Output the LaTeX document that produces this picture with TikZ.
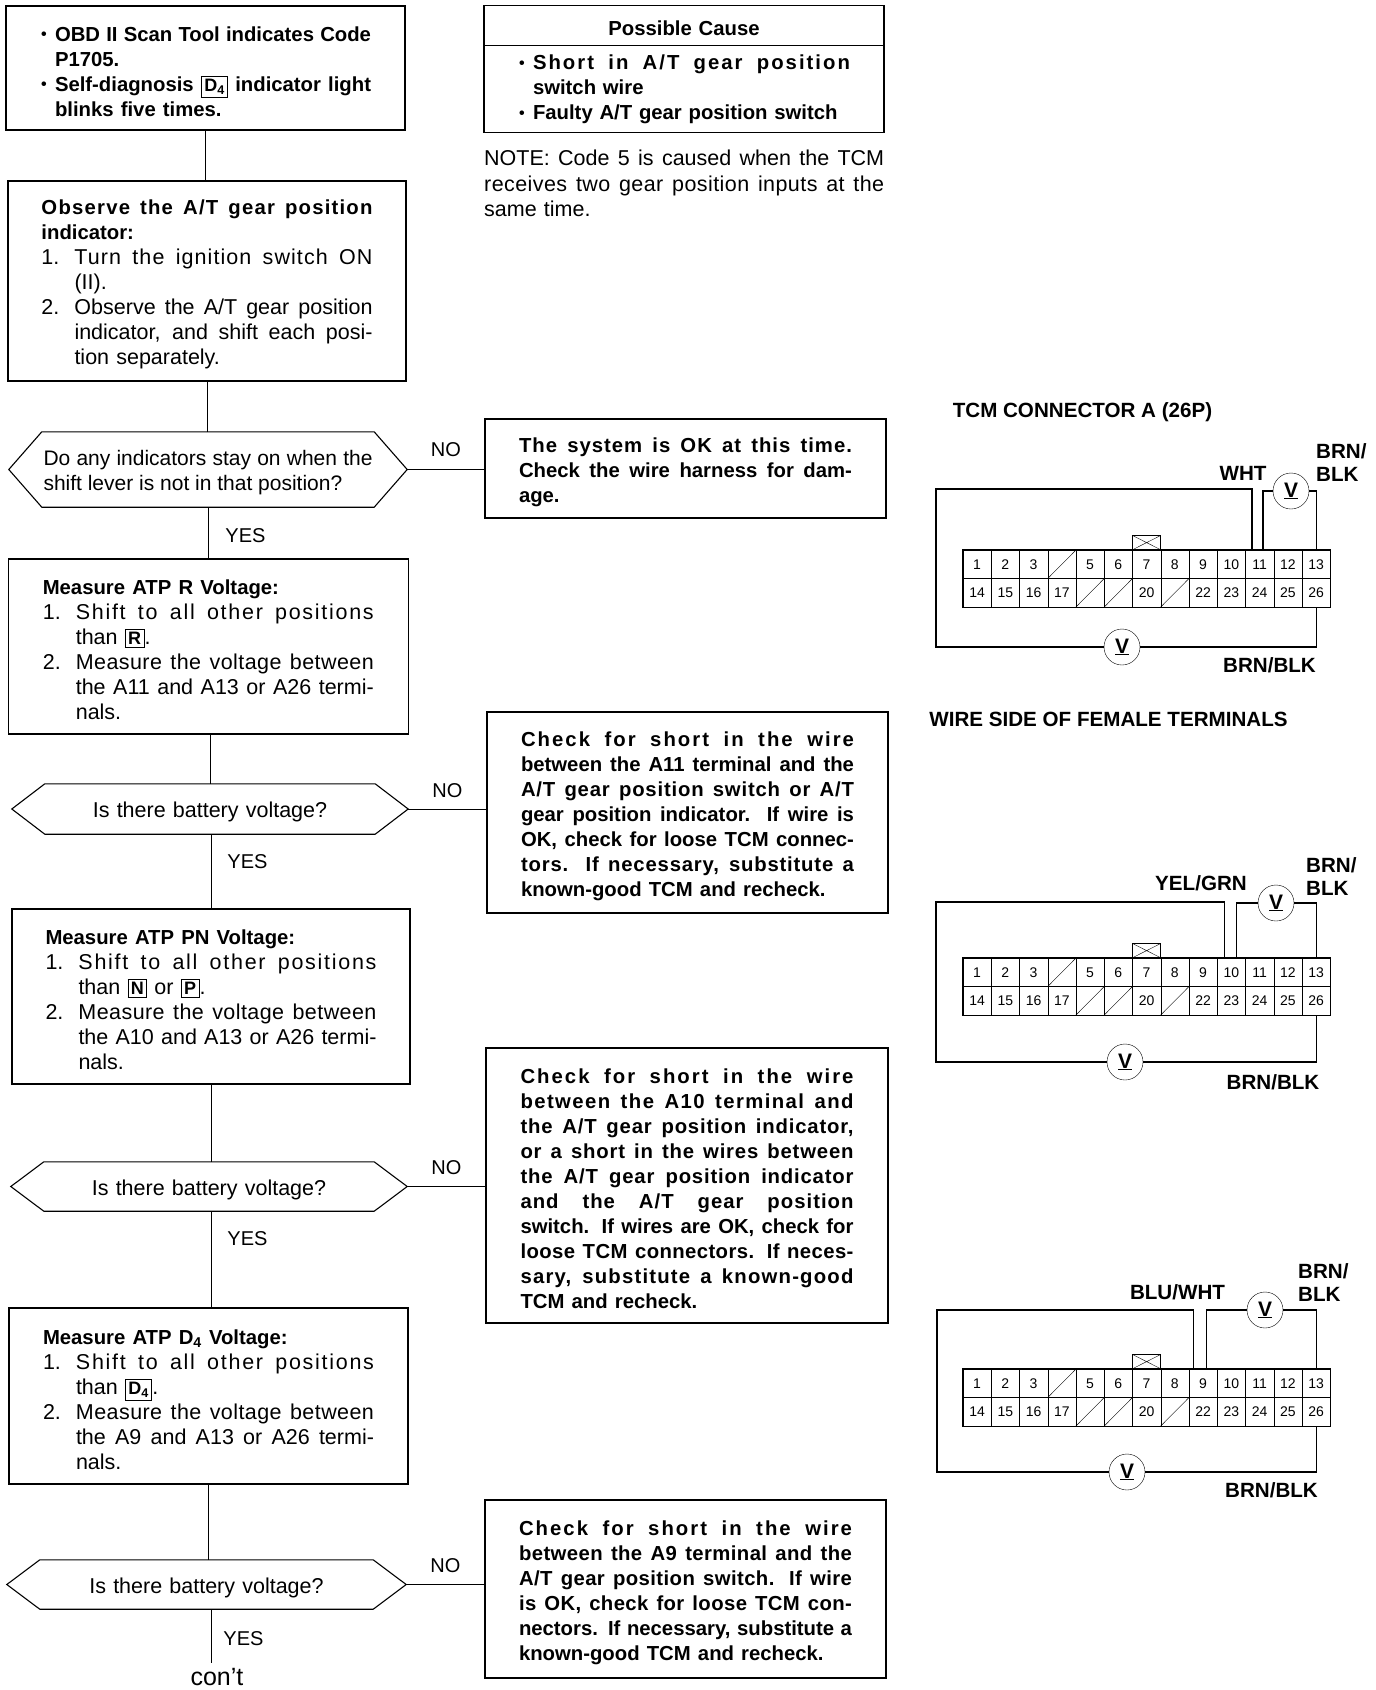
\documentclass[tikz,border=0pt]{standalone}
\usepackage{fontspec}
\setmainfont{Liberation Sans}
\usetikzlibrary{positioning,shapes.multipart}
\newcommand{\bfn}{\fontsize{20.3}{25}\bfseries\selectfont}
\newcommand{\hd}[1]{{\bfn #1}}
\newcommand{\lsp}[1]{\spaceskip=0pt\xspaceskip=0pt\addfontfeature{LetterSpace=#1}}
\newcommand{\just}[2][0]{\makebox[\hsize][s]{\lsp{#1}#2}}
\newcommand{\numj}[3][0]{\makebox[33pt][l]{#2}\makebox[\dimexpr\hsize-33pt\relax][s]{\lsp{#1}#3}}
\newcommand{\conj}[2][0]{\hspace*{33pt}\makebox[\dimexpr\hsize-33pt\relax][s]{\lsp{#1}#2}}
\newcommand{\conl}[1]{\hspace*{33pt}#1}
\newcommand{\bulm}{\makebox[15pt][l]{\hspace*{1pt}\raisebox{1.5pt}{\fontsize{16}{16}\selectfont\textbullet}}}
\newcommand{\bulj}[2][0]{\bulm\makebox[\dimexpr\hsize-15pt\relax][s]{\lsp{#1}#2}}
\newcommand{\indbox}[1]{{\fboxsep=2.5pt\fboxrule=0.9pt\fbox{\fontsize{18}{18}\bfseries\selectfont #1}}}
\newcommand{\hexout}[1]{\draw[link, line width=1.1pt] (#1.west) -- ([xshift=33pt]#1.north west) -- ([xshift=-33pt]#1.north east) -- (#1.east) -- ([xshift=-33pt]#1.south east) -- ([xshift=33pt]#1.south west) -- cycle;}
\newcommand{\tcmblock}[3]{%
  \foreach \lbl [count=\n] in {1,2,3,{},5,6,7,8,9,10,11,12,13}
    \node[cell] (#1\n) at ({#2+14.1+(\n-1)*28.25},{#3+14.25}) {\lbl};
  \foreach \lbl [count=\n from 14] in {14,15,16,17,{},{},20,{},22,23,24,25,26}
    \node[cell] (#1\n) at ({#2+14.1+(\n-14)*28.25},{#3+42.75}) {\lbl};
  \foreach \n in {4,18,19,21}
    \draw (#1\n.south west) -- (#1\n.north east);
  \draw[line width=1.4pt] (#11.north west) rectangle (#126.south east);
  \node[keybox, above=0pt of #17.north] (#1key) {};
  \draw (#1key.north west) -- (#1key.south east) (#1key.north east) -- (#1key.south west);
}

\begin{document}
\begin{tikzpicture}[
      x=1pt, y=-1pt,
      box/.style={draw, rectangle, inner sep=2pt, align=left, line width=1.1pt,
                  font=\fontsize{21.5}{25}\selectfont,
                  execute at begin node={\rule{0pt}{22pt}}},
      decision/.style={rectangle, inner sep=0pt, align=center,
                       font=\fontsize{21.5}{25}\selectfont,
                       execute at begin node={\rule{0pt}{22pt}}},
      cause/.style={draw, rectangle split, rectangle split parts=2, inner xsep=34pt,
                    inner ysep=8.5pt, text width=332pt, align=left, line width=1.1pt,
                    font=\bfn},
      link/.style={line width=.9pt},
      lab/.style={inner sep=0pt, font=\fontsize{20}{25}\selectfont},
      cell/.style={draw, minimum width=28.25pt, minimum height=28.5pt, inner sep=0pt,
                   font=\fontsize{14}{15}\selectfont},
      keybox/.style={draw, minimum width=28pt, minimum height=14pt, inner sep=0pt},
      wire/.style={line width=1.2pt},
      vmeter/.style={draw, circle, minimum size=36pt, inner sep=0pt,
                     font=\fontsize{21}{21}\bfseries\selectfont},
      tag/.style={inner sep=0pt, align=left, font=\fontsize{20.6}{23}\bfseries\selectfont}
    ]
      \useasboundingbox (0,0) rectangle (1376,1690);

      % OBD code
      \node[box, minimum width=399pt, minimum height=124pt, text width=331pt] (obd) at (205.5,68) {\bfn
        \bulj{OBD II Scan Tool indicates Code}\\
        \hspace*{15pt}P1705.\\
        \bulj{Self-diagnosis \indbox{D\textsubscript{4}} indicator light}\\
        \hspace*{15pt}blinks five times.
      };

      % Observe
      \node[box, minimum width=398pt, minimum height=200pt, text width=331pt] (observe) at (207,281) {
        {\bfn\just[6]{Observe the A/T gear position}}\\
        \hd{indicator:}\\
        \numj[5]{1.}{Turn the ignition switch ON}\\
        \conl{(II).}\\
        \numj{2.}{Observe the A/T gear position}\\
        \conj{indicator, and shift each posi-}\\
        \conl{tion separately.}
      };

      % Possible cause
      \node[cause] (pc) at (684,69.3) {
        \makebox[\hsize][c]{\rule[-1pt]{0pt}{22pt}Possible Cause}
        \nodepart{second}
        \bulj[10]{Short in A/T gear position}\\
        \hspace*{15pt}switch wire\\
        \bulm Faulty A/T gear position switch
      };

      % Note
      \node[anchor=north west, inner sep=0pt, text width=400pt, align=left,
            font=\fontsize{21.5}{25.5}\selectfont] (note) at (484,150) {
        \just{NOTE: Code 5 is caused when the TCM}\\
        \just[2]{receives two gear position inputs at the}\\
        same time.
      };

      % Indicators stay on
      \node[decision, minimum width=398pt, minimum height=75pt, text width=329pt, align=left, font=\fontsize{21}{25}\selectfont] (anyind) at (208,469.5) {
        \just{Do any indicators stay on when the}\\
        \lsp{0}shift lever is not in that position?
      };
      \hexout{anyind}
      \node[box, minimum width=401pt, minimum height=99pt, text width=333pt] (oksys) at (685.5,468.5) {\bfn
        \just[5]{The system is OK at this time.}\\
        \just{Check the wire harness for dam-}\\
        age.
      };

      % ATP R
      \node[box, minimum width=400pt, minimum height=175pt, text width=331pt] (measr) at (208.3,646.5) {
        \hd{Measure ATP R Voltage:}\\
        \numj[8]{1.}{Shift to all other positions}\\
        \conl{than \indbox{R}.}\\
        \numj[2]{2.}{Measure the voltage between}\\
        \conj{the A11 and A13 or A26 termi-}\\
        \conl{nals.}
      };
      \node[decision, minimum width=396pt, minimum height=50pt, text width=300pt] (batr) at (210,809) {Is there battery voltage?};
      \hexout{batr}
      \node[box, minimum width=401pt, minimum height=201pt, text width=333pt] (shortr) at (687.5,812.5) {\bfn
        \just[10]{Check for short in the wire}\\
        \just{between the A11 terminal and the}\\
        \just[4]{A/T gear position switch or A/T}\\
        \just{gear position indicator. If wire is}\\
        \just{OK, check for loose TCM connec-}\\
        \just[4]{tors. If necessary, substitute a}\\
        known-good TCM and recheck.
      };

      % ATP PN
      \node[box, minimum width=398pt, minimum height=175pt, text width=331pt] (measpn) at (211,996.5) {
        \hd{Measure ATP PN Voltage:}\\
        \numj[8]{1.}{Shift to all other positions}\\
        \conl{than \indbox{N} or \indbox{P}.}\\
        \numj[2]{2.}{Measure the voltage between}\\
        \conj{the A10 and A13 or A26 termi-}\\
        \conl{nals.}
      };
      \node[decision, minimum width=396pt, minimum height=49pt, text width=300pt] (batpn) at (209,1186.5) {Is there battery voltage?};
      \hexout{batpn}
      \node[box, minimum width=402pt, minimum height=275pt, text width=333pt] (shortpn) at (687,1185.5) {\bfn
        \just[10]{Check for short in the wire}\\
        \just[7]{between the A10 terminal and}\\
        \just[4]{the A/T gear position indicator,}\\
        \just[4]{or a short in the wires between}\\
        \just[4]{the A/T gear position indicator}\\
        \just[5]{and the A/T gear position}\\
        \just{switch. If wires are OK, check for}\\
        \just[2]{loose TCM connectors. If neces-}\\
        \just[6]{sary, substitute a known-good}\\
        TCM and recheck.
      };

      % ATP D4
      \node[box, minimum width=399pt, minimum height=176pt, text width=331pt] (measd) at (208.5,1396) {
        \hd{Measure ATP D\textsubscript{4} Voltage:}\\
        \numj[8]{1.}{Shift to all other positions}\\
        \conl{than \indbox{D\textsubscript{4}}.}\\
        \numj[2]{2.}{Measure the voltage between}\\
        \conj{the A9 and A13 or A26 termi-}\\
        \conl{nals.}
      };
      \node[decision, minimum width=399pt, minimum height=49pt, text width=300pt] (batd) at (206.5,1584.5) {Is there battery voltage?};
      \hexout{batd}
      \node[box, minimum width=401pt, minimum height=178pt, text width=333pt] (shortd) at (685.5,1589) {\bfn
        \just[10]{Check for short in the wire}\\
        \just[2]{between the A9 terminal and the}\\
        \just[2]{A/T gear position switch. If wire}\\
        \just[2]{is OK, check for loose TCM con-}\\
        \just{nectors. If necessary, substitute a}\\
        known-good TCM and recheck.
      };
      \node[lab, font=\fontsize{25}{25}\selectfont] (cont) at (217,1677) {con't};
      \coordinate (contend) at (211,1663);

      % Edges
      \draw[link] (obd.south) -- (obd.south |- observe.north);
      \draw[link] (observe.south) -- (observe.south |- anyind.north);
      \draw[link] (anyind.east) -- (anyind.east -| oksys.west) node[midway, above=12pt, lab] {NO};
      \draw[link] (anyind.south) -- (anyind.south |- measr.north) node[pos=.56, right=17pt, lab] {YES};
      \draw[link] (batr.north |- measr.south) -- (batr.north);
      \draw[link] (batr.east) -- (batr.east -| shortr.west) node[midway, above=11pt, lab] {NO};
      \draw[link] (measpn.north |- batr.south) -- (measpn.north) node[pos=.37, right=16pt, lab] {YES};
      \draw[link] (measpn.south) -- (measpn.south |- batpn.north);
      \draw[link] (batpn.east) -- (batpn.east -| shortpn.west) node[midway, above=11pt, lab] {NO};
      \draw[link] (measpn.south |- batpn.south) -- (measpn.south |- measd.north) node[pos=.28, right=16pt, lab] {YES};
      \draw[link] (measd.south) -- (measd.south |- batd.north);
      \draw[link] (batd.east) -- (batd.east -| shortd.west) node[midway, above=11pt, lab] {NO};
      \draw[link] (contend |- batd.south) -- (contend) node[pos=.54, right=12pt, lab] {YES};

      % Connector for A11
      \node[tag] (atitle) at (1082.5,412) {TCM CONNECTOR A (26P)};
      \tcmblock{a}{963}{550}
      \node[vmeter] (av1) at (1122,647) {\underline{V}};
      \node[vmeter] (av2) at (1291,491) {\underline{V}};
      \coordinate (atl) at (936,489);
      \coordinate (abl) at (936,647);
      \draw[wire] ([xshift=-7.6pt]a11.north) |- (atl) -- (abl) -- (av1);
      \draw[wire] (av1) -| (a26.south);
      \draw[wire] ([xshift=3.4pt]a11.north) |- (av2);
      \draw[wire] (av2) -| (a13.north);
      \node[tag] (awht) at (1243,473) {WHT};
      \node[tag, anchor=west] (abrn) at (1316,463) {BRN/\\BLK};
      \node[tag] (abb) at (1269.5,665) {BRN/BLK};
      \node[tag] (aside) at (1108.5,719) {WIRE SIDE OF FEMALE TERMINALS};

      % Connector for A10
      \tcmblock{b}{963}{958}
      \node[vmeter] (bv1) at (1125,1062) {\underline{V}};
      \node[vmeter] (bv2) at (1276,903) {\underline{V}};
      \coordinate (btl) at (936,902);
      \coordinate (bbl) at (936,1062);
      \draw[wire] ([xshift=-6.5pt]b10.north) |- (btl) -- (bbl) -- (bv1);
      \draw[wire] (bv1) -| (b26.south);
      \draw[wire] ([xshift=5.5pt]b10.north) |- (bv2);
      \draw[wire] (bv2) -| (b13.north);
      \node[tag] (bye) at (1201,883) {YEL/GRN};
      \node[tag, anchor=west] (bbrn) at (1306,877) {BRN/\\BLK};
      \node[tag] (bbb) at (1273,1082) {BRN/BLK};

      % Connector for A9
      \tcmblock{c}{963}{1369}
      \node[vmeter] (cv1) at (1127,1472) {\underline{V}};
      \node[vmeter] (cv2) at (1265,1310) {\underline{V}};
      \coordinate (ctl) at (937,1310);
      \coordinate (cbl) at (937,1472);
      \draw[wire] ([xshift=-10pt]c9.north) |- (ctl) -- (cbl) -- (cv1);
      \draw[wire] (cv1) -| (c26.south);
      \draw[wire] ([xshift=3pt]c9.north) |- (cv2);
      \draw[wire] (cv2) -| (c13.north);
      \node[tag] (cblu) at (1177.5,1292) {BLU/WHT};
      \node[tag, anchor=west] (cbrn) at (1298,1283) {BRN/\\BLK};
      \node[tag] (cbb) at (1271.5,1490) {BRN/BLK};
    \end{tikzpicture}
\end{document}
